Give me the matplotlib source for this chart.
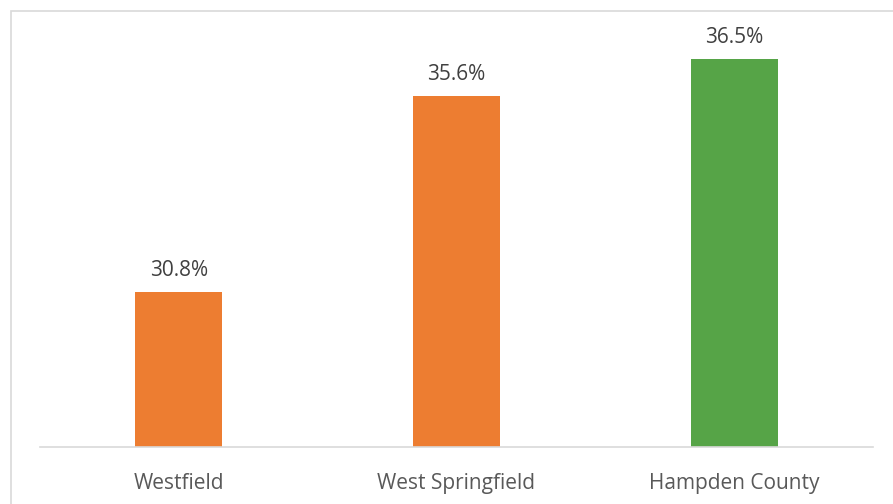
import matplotlib.pyplot as plt
from matplotlib.patches import Rectangle

places = ["Westfield", "West Springfield", "Hampden County"]
pct = [30.8, 35.6, 36.5]
bar_colors = ["#ED7D31", "#ED7D31", "#56A447"]

W, H = 893, 504
fig = plt.figure(figsize=(W / 100, H / 100), dpi=100)
plt.rcParams['font.family'] = ['Open Sans', 'DejaVu Sans']

# outer chart frame (light gray, runs off the right/bottom edge)
fig.patches.append(Rectangle((11 / W, -0.1), 1.2, (H - 11) / H + 0.1,
                             transform=fig.transFigure, fill=False,
                             edgecolor="#D9D9D9", linewidth=1.2))

left, right = 40, 873
bottom, top = 447, 18
ax = fig.add_axes([left / W, (H - bottom) / H, (right - left) / W, (bottom - top) / H])

x = range(len(places))
bars = ax.bar(x, pct, width=0.313, color=bar_colors, bottom=0)
ax.set_ylim(27, 37.5)
ax.set_xlim(-0.5, 2.5)

for i, v in enumerate(pct):
    ax.annotate(f"{v}%", (i, v), xytext=(0, 7.5), textcoords="offset points",
                ha="center", va="bottom", fontsize=15, color="#404040")

ax.set_xticks(list(x))
ax.set_xticklabels(places, fontsize=15, color="#595959")
ax.tick_params(axis="x", length=0, pad=18.5)
ax.set_yticks([])
for s in ["top", "right", "left"]:
    ax.spines[s].set_visible(False)
ax.spines["bottom"].set_color("#D9D9D9")
ax.spines["bottom"].set_linewidth(1.2)

fig.savefig("out.png", dpi=100)
